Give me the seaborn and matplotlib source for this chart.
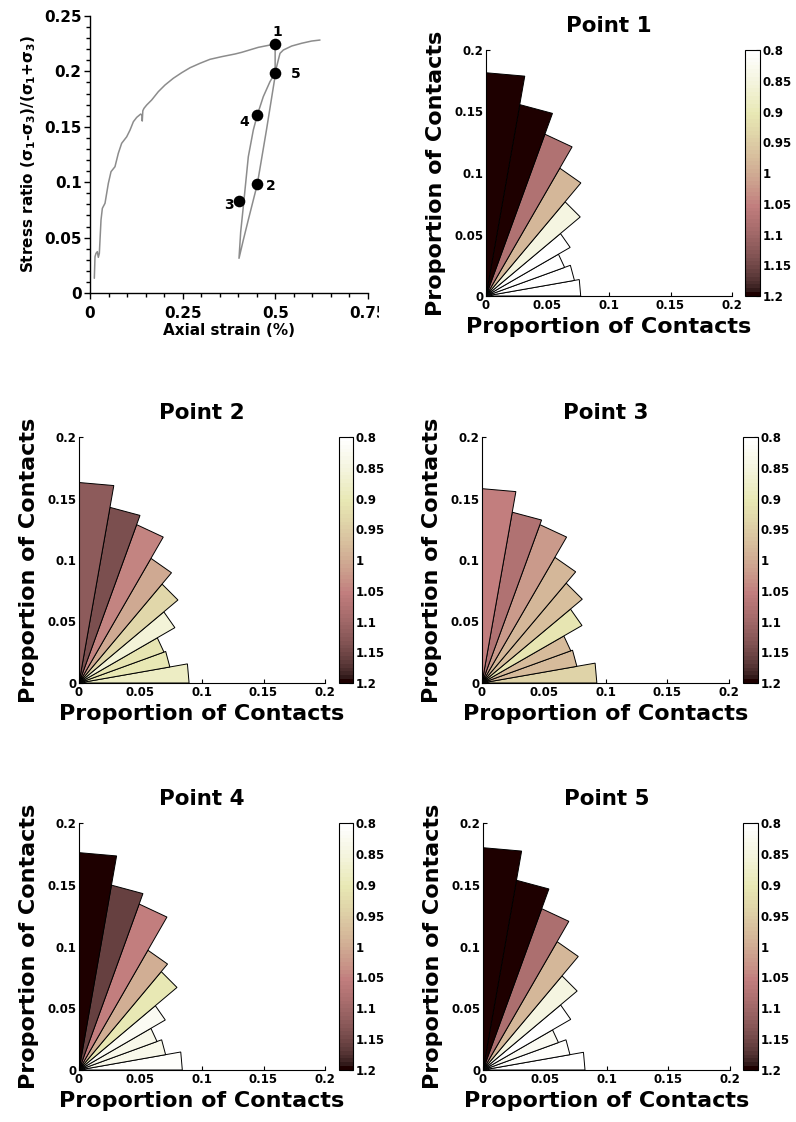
import numpy as np
import pandas as pd
import matplotlib
matplotlib.use("Agg")
import matplotlib.pyplot as plt
import seaborn as sns
from matplotlib.colors import Normalize
from matplotlib.cm import ScalarMappable
from matplotlib.ticker import MultipleLocator
from matplotlib.transforms import Bbox, TransformedBbox

sns.set_style("ticks")
plt.rcParams["font.family"] = ["DejaVu Sans"]
plt.rcParams["font.weight"] = "bold"
plt.rcParams["mathtext.fontset"] = "custom"
plt.rcParams["mathtext.rm"] = "DejaVu Sans:bold"
plt.rcParams["mathtext.it"] = "DejaVu Sans:bold"
plt.rcParams["mathtext.bf"] = "DejaVu Sans:bold"
for key in ["text.color", "axes.labelcolor", "xtick.color", "ytick.color", "axes.edgecolor"]:
    plt.rcParams[key] = "black"

# ---- stress-strain path (loading, unloading, reloading) ----
strain = [0.0117, 0.0135, 0.0162, 0.0198, 0.0225, 0.0252, 0.0297, 0.0333, 0.0405,
          0.0495, 0.0567, 0.0674, 0.0764, 0.0854, 0.0990, 0.1079, 0.1170, 0.1260,
          0.1367, 0.1405, 0.1410, 0.1425, 0.1457, 0.1530, 0.1664, 0.1843, 0.2023,
          0.2248, 0.2473, 0.2698, 0.2967, 0.3237, 0.3552, 0.3912, 0.4092, 0.4540,
          0.4856, 0.4995,
          0.4995, 0.5000, 0.4760, 0.4513, 0.4270, 0.4136, 0.4020,
          0.4065, 0.4136, 0.4271, 0.4406, 0.4513, 0.4675, 0.4855, 0.4990, 0.5080,
          0.5126, 0.5216, 0.5441, 0.5711, 0.5980, 0.6205]
stress = [0.0133, 0.0328, 0.0358, 0.0373, 0.0322, 0.0358, 0.0659, 0.0764, 0.0810,
          0.0990, 0.1095, 0.1140, 0.1261, 0.1351, 0.1410, 0.1470, 0.1546, 0.1585,
          0.1615, 0.1605, 0.1552, 0.1645, 0.1667, 0.1697, 0.1742, 0.1817, 0.1877,
          0.1938, 0.1988, 0.2033, 0.2073, 0.2109, 0.2133, 0.2157, 0.2172, 0.2217,
          0.2238, 0.2244,
          0.2050, 0.1970, 0.1470, 0.0981, 0.0659, 0.0478, 0.0313,
          0.0550, 0.0779, 0.1230, 0.1471, 0.1606, 0.1772, 0.1907, 0.1983, 0.2103,
          0.2163, 0.2193, 0.2229, 0.2254, 0.2274, 0.2283]

# sampled states along the path
point_ids = ["1", "2", "3", "4", "5"]
point_strain = [0.500, 0.4513, 0.402, 0.4513, 0.500]
point_stress = [0.2245, 0.0981, 0.083, 0.1606, 0.1985]
label_offsets = [(1.4, 8.6), (10.0, -1.5), (-7.2, -3.0), (-9.4, -5.0), (15.0, -0.7)]

# ---- contact orientation histograms (10 degree bins, 0-90 deg) ----
bin_edges_deg = [0, 10, 20, 30, 40, 50, 60, 70, 80, 90]
rose_radius = {
    "Point 1": [0.077, 0.073, 0.068, 0.079, 0.100, 0.120, 0.140, 0.158, 0.1815],
    "Point 2": [0.0895, 0.075, 0.0735, 0.090, 0.105, 0.117, 0.137, 0.145, 0.163],
    "Point 3": [0.093, 0.078, 0.0765, 0.0935, 0.106, 0.118, 0.137, 0.141, 0.158],
    "Point 4": [0.084, 0.0715, 0.0675, 0.081, 0.104, 0.112, 0.143, 0.152, 0.176],
    "Point 5": [0.0826, 0.0715, 0.065, 0.082, 0.0995, 0.120, 0.139, 0.156, 0.180],
}
rose_value = {
    "Point 1": [0.80, 0.80, 0.80, 0.80, 0.845, 0.985, 1.08, 1.20, 1.20],
    "Point 2": [0.886, 0.90, 0.91, 0.86, 0.933, 1.005, 1.045, 1.138, 1.122],
    "Point 3": [0.94, 0.98, 0.98, 0.91, 0.975, 0.985, 1.019, 1.08, 1.056],
    "Point 4": [0.81, 0.835, 0.835, 0.825, 0.904, 0.998, 1.056, 1.161, 1.20],
    "Point 5": [0.80, 0.81, 0.825, 0.80, 0.85, 0.985, 1.085, 1.20, 1.20],
}
rose_ticks = [0, 0.05, 0.1, 0.15, 0.2]
rose_ticklabels = ["0", "0.05", "0.1", "0.15", "0.2"]
cbar_ticks = [0.8, 0.85, 0.9, 0.95, 1.0, 1.05, 1.1, 1.15, 1.2]
cbar_ticklabels = ["0.8", "0.85", "0.9", "0.95", "1", "1.05", "1.1", "1.15", "1.2"]

W, H = 796, 1122
fig = plt.figure(figsize=(W / 100, H / 100), dpi=100)


def box(l, t, r, b):
    return [l / W, 1 - b / H, (r - l) / W, (b - t) / H]


# ---- stress ratio vs axial strain ----
ax0 = fig.add_axes(box(90, 16, 368, 293))
path = pd.DataFrame({"strain": strain, "ratio": stress})
sns.lineplot(data=path, x="strain", y="ratio", sort=False, estimator=None,
             color="#8c8c8c", lw=1.1, ax=ax0)
pts = pd.DataFrame({"strain": point_strain, "ratio": point_stress, "id": point_ids})
sns.scatterplot(data=pts, x="strain", y="ratio", color="black", s=70,
                edgecolor="black", linewidth=0, zorder=5, ax=ax0)
for pid, xv, yv, off in zip(point_ids, point_strain, point_stress, label_offsets):
    ax0.annotate(pid, (xv, yv), xytext=off, textcoords="offset points",
                 ha="center", va="center", fontsize=10, fontweight="bold")
ax0.set_xlim(0, 0.75)
ax0.set_ylim(0, 0.25)
ax0.set_xticks([0, 0.25, 0.5, 0.75])
ax0.set_xticklabels(["0", "0.25", "0.5", "0.75"])
ax0.set_yticks([0, 0.05, 0.1, 0.15, 0.2, 0.25])
ax0.set_yticklabels(["0", "0.05", "0.1", "0.15", "0.2", "0.25"])
ax0.xaxis.set_minor_locator(MultipleLocator(0.05))
ax0.yaxis.set_minor_locator(MultipleLocator(0.01))
ax0.tick_params(which="both", direction="out", width=1.0, labelsize=11)
ax0.tick_params(axis="x", which="both", pad=5.5)
ax0.tick_params(axis="y", which="both", pad=2)
ax0.tick_params(which="major", length=4)
ax0.tick_params(which="minor", length=3)
ax0.set_xlabel("Axial strain (%)", fontsize=11, fontweight="bold", labelpad=1)
ax0.set_ylabel(r"Stress ratio ($\sigma_1$-$\sigma_3$)/($\sigma_1$+$\sigma_3$)",
               fontsize=11, fontweight="bold", labelpad=4)
for s in ax0.spines.values():
    s.set_linewidth(1.0)
sns.despine(ax=ax0)
clip = TransformedBbox(Bbox([[0, 0], [379 / W, 1]]), fig.transFigure)
for t in ax0.get_xticklabels():
    t.set_clip_box(clip)
    t.set_clip_on(True)

# ---- rose panels ----
cmap = plt.get_cmap("pink_r").resampled(64)
norm = Normalize(vmin=0.8, vmax=1.2, clip=True)

panels = [
    ("Point 1", (486, 50, 732, 296), (745, 50, 760, 296)),
    ("Point 2", (79, 437, 325, 683), (339, 437, 353, 683)),
    ("Point 3", (482, 437, 729, 683), (743, 437, 758, 683)),
    ("Point 4", (79, 823, 325, 1070), (339, 823, 353, 1070)),
    ("Point 5", (483, 823, 730, 1070), (743, 823, 758, 1070)),
]

edges = np.radians(bin_edges_deg)
for name, abox, cbox in panels:
    ax = fig.add_axes(box(*abox))
    for i, (r, v) in enumerate(zip(rose_radius[name], rose_value[name])):
        t1, t2 = edges[i], edges[i + 1]
        ax.fill([0, r * np.cos(t1), r * np.cos(t2)],
                [0, r * np.sin(t1), r * np.sin(t2)],
                facecolor=cmap(norm(v)), edgecolor="black", lw=0.7)
    ax.set_xlim(0, 0.2)
    ax.set_ylim(0, 0.2)
    ax.set_xticks(rose_ticks)
    ax.set_xticklabels(rose_ticklabels)
    ax.set_yticks(rose_ticks)
    ax.set_yticklabels(rose_ticklabels)
    ax.tick_params(direction="in", length=3, width=0.8, labelsize=8.5, pad=2)
    for s in ax.spines.values():
        s.set_linewidth(0.8)
    sns.despine(ax=ax)
    ax.set_title(name, fontsize=15.5, fontweight="bold", pad=13)
    ax.set_xlabel("Proportion of Contacts", fontsize=16, fontweight="bold", labelpad=4)
    ax.set_ylabel("Proportion of Contacts", fontsize=16, fontweight="bold", labelpad=6)

    cax = fig.add_axes(box(*cbox))
    sm = ScalarMappable(norm=norm, cmap=cmap)
    cb = fig.colorbar(sm, cax=cax, ticks=cbar_ticks)
    cb.set_ticklabels(cbar_ticklabels)
    cax.invert_yaxis()
    cax.tick_params(direction="in", length=3, width=0.8, labelsize=8.5, pad=2)
    cb.outline.set_linewidth(0.8)

fig.savefig("out.png", dpi=100)
